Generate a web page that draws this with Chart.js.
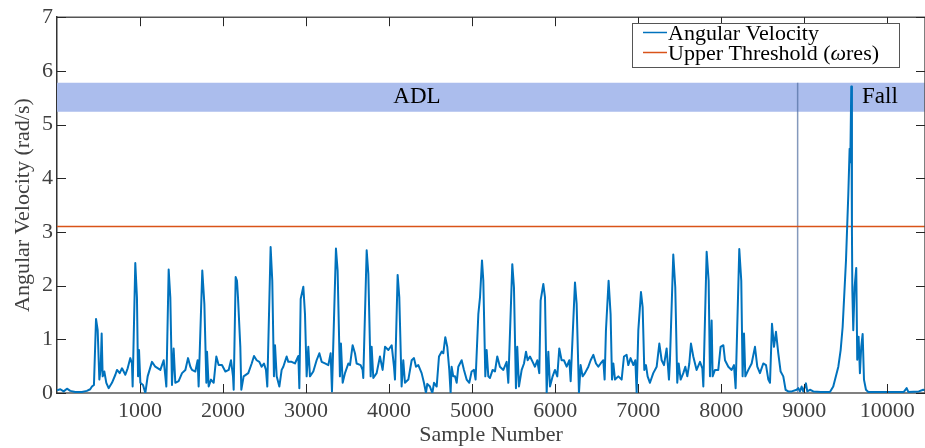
<!DOCTYPE html>
<html>
<head>
<meta charset="utf-8">
<script src="https://cdn.jsdelivr.net/npm/chart.js@4.4.1/dist/chart.umd.min.js"></script>
<style>
  html, body { margin: 0; padding: 0; background: #fff; }
  #chart { display: block; }
</style>
</head>
<body>
<canvas id="chart" width="925" height="448"></canvas>
<script>
// DATA

const sampleNumber = [
    0, 40, 80, 120, 160, 220, 300, 360, 400, 421, 445, 470, 490, 510, 525, 538, 550, 570, 594, 622,
    662, 703, 723, 755, 783, 823, 851, 883, 903, 911, 943, 963, 976, 988, 1004, 1036, 1064, 1092, 1144, 1184,
    1245, 1285, 1305, 1317, 1345, 1365, 1385, 1405, 1425, 1465, 1506, 1546, 1578, 1606, 1626, 1666, 1694, 1706, 1750, 1775,
    1799, 1807, 1827, 1855, 1887, 1919, 1947, 1987, 2028, 2068, 2096, 2120, 2128, 2152, 2168, 2180, 2208, 2220, 2248, 2304,
    2345, 2373, 2405, 2437, 2465, 2493, 2517, 2533, 2573, 2593, 2613, 2626, 2646, 2678, 2706, 2726, 2766, 2786, 2826, 2866,
    2907, 2919, 2935, 2967, 2987, 3007, 3027, 3047, 3087, 3127, 3160, 3188, 3228, 3268, 3296, 3312, 3360, 3380, 3408, 3420,
    3441, 3469, 3509, 3529, 3561, 3589, 3609, 3657, 3681, 3689, 3730, 3750, 3778, 3790, 3810, 3850, 3890, 3922, 3951, 3991,
    4031, 4059, 4071, 4103, 4123, 4151, 4171, 4191, 4232, 4272, 4300, 4324, 4352, 4392, 4420, 4444, 4460, 4492, 4521, 4541,
    4573, 4601, 4633, 4653, 4677, 4701, 4725, 4741, 4753, 4773, 4794, 4814, 4834, 4874, 4902, 4934, 4966, 4994, 5022, 5042,
    5075, 5095, 5119, 5135, 5159, 5175, 5195, 5215, 5247, 5275, 5303, 5335, 5376, 5416, 5436, 5484, 5504, 5528, 5544, 5564,
    5597, 5625, 5649, 5669, 5697, 5729, 5757, 5785, 5809, 5825, 5858, 5878, 5898, 5918, 5938, 5970, 5998, 6026, 6050, 6078,
    6106, 6139, 6171, 6187, 6239, 6259, 6287, 6307, 6331, 6359, 6400, 6428, 6460, 6492, 6520, 6548, 6580, 6596, 6612, 6644,
    6668, 6685, 6701, 6721, 6761, 6801, 6829, 6861, 6881, 6909, 6942, 6966, 6982, 7002, 7034, 7054, 7074, 7094, 7114, 7142,
    7182, 7223, 7255, 7283, 7311, 7343, 7371, 7383, 7423, 7447, 7471, 7488, 7512, 7544, 7568, 7592, 7616, 7636, 7664, 7704,
    7745, 7773, 7785, 7825, 7849, 7865, 7885, 7897, 7925, 7965, 7993, 8026, 8046, 8086, 8126, 8154, 8174, 8218, 8242, 8258,
    8275, 8291, 8327, 8367, 8407, 8435, 8467, 8507, 8540, 8568, 8588, 8612, 8636, 8660, 8688, 8716, 8748, 8776, 8808, 8850,
    8909, 8929, 8949, 8969, 8989, 9021, 9037, 9069, 9110, 9200, 9310, 9350, 9411, 9439, 9463, 9503, 9531, 9547, 9555, 9567,
    9575, 9580, 9591, 9607, 9627, 9639, 9655, 9671, 9687, 9704, 9720, 9744, 9772, 9900, 10000, 10200, 10234, 10254, 10380, 10434,
    10455
];

const angularVelocity = [
    0.05, 0.07, 0.03, 0.08, 0.04, 0.02, 0.02, 0.04, 0.07, 0.12, 0.15, 1.38, 1.17, 0.25, 0.43, 1.11, 0.31, 0.40, 0.19, 0.09,
    0.19, 0.34, 0.43, 0.37, 0.46, 0.34, 0.46, 0.65, 0.55, 0.12, 2.42, 1.78, 0.31, 0.80, 0.19, 0.15, 0.00, 0.31, 0.58, 0.49,
    0.43, 0.61, 0.31, 0.12, 2.30, 1.78, 0.15, 0.83, 0.19, 0.22, 0.37, 0.43, 0.65, 0.49, 0.43, 0.40, 0.61, 0.12, 2.28, 1.66,
    0.19, 0.77, 0.12, 0.25, 0.19, 0.68, 0.52, 0.52, 0.40, 0.43, 0.61, 0.31, 0.06, 2.16, 2.09, 1.78, 0.86, 0.06, 0.31, 0.37,
    0.55, 0.69, 0.61, 0.58, 0.49, 0.55, 0.43, 0.12, 2.72, 2.09, 0.31, 0.89, 0.31, 0.12, 0.43, 0.49, 0.68, 0.58, 0.58, 0.55,
    0.69, 0.09, 1.75, 1.98, 1.47, 0.31, 0.86, 0.31, 0.40, 0.61, 0.74, 0.58, 0.55, 0.52, 0.74, 0.03, 2.69, 2.28, 0.31, 0.92,
    0.19, 0.37, 0.55, 0.52, 0.89, 0.74, 0.55, 0.52, 0.43, 0.28, 2.66, 2.22, 0.31, 0.86, 0.28, 0.37, 0.68, 0.43, 0.86, 0.80,
    0.89, 0.49, 0.25, 2.20, 1.78, 0.12, 0.61, 0.19, 0.25, 0.61, 0.65, 0.49, 0.52, 0.37, 0.19, 0.00, 0.17, 0.12, 0.00, 0.19,
    0.12, 0.68, 0.77, 0.74, 1.04, 0.86, 0.43, 0.00, 0.49, 0.31, 0.31, 0.19, 0.49, 0.61, 0.43, 0.25, 0.19, 0.40, 0.43, 0.25,
    1.47, 1.78, 2.47, 2.09, 0.31, 0.80, 0.31, 0.28, 0.43, 0.40, 0.68, 0.49, 0.43, 0.58, 0.19, 2.40, 1.97, 0.09, 0.86, 0.12,
    0.43, 0.55, 0.77, 0.61, 0.68, 0.58, 0.49, 0.61, 0.37, 1.72, 2.03, 1.78, 0.00, 0.77, 0.12, 0.31, 0.43, 0.31, 0.83, 0.61,
    0.61, 0.49, 0.61, 0.22, 2.06, 1.66, 0.00, 0.52, 0.31, 0.37, 0.49, 0.61, 0.71, 0.55, 0.49, 0.55, 0.61, 0.25, 1.17, 2.09,
    1.47, 0.25, 0.55, 0.25, 0.31, 0.25, 0.68, 0.71, 0.52, 0.65, 0.52, 0.61, 0.00, 1.17, 1.88, 1.60, 0.43, 0.52, 0.31, 0.19,
    0.37, 0.49, 0.92, 0.61, 0.52, 0.83, 0.25, 0.61, 2.58, 1.97, 0.19, 0.55, 0.25, 0.37, 0.49, 0.31, 0.55, 0.92, 0.68, 0.43,
    0.58, 0.46, 0.12, 2.63, 2.09, 0.31, 1.35, 0.31, 0.43, 0.43, 0.86, 0.89, 0.61, 0.49, 0.43, 0.52, 0.09, 2.68, 2.09, 0.31,
    1.11, 0.31, 0.43, 0.55, 0.86, 0.49, 0.37, 0.55, 0.52, 0.25, 0.19, 1.29, 0.86, 1.14, 0.74, 0.40, 0.31, 0.06, 0.03, 0.03,
    0.06, 0.09, 0.03, 0.12, 0.03, 0.18, 0.03, 0.06, 0.03, 0.02, 0.02, 0.12, 0.49, 0.80, 1.23, 2.46, 3.69, 4.55, 4.30, 5.71,
    3.00, 1.90, 1.17, 1.97, 2.33, 0.62, 1.05, 0.37, 0.86, 1.10, 0.25, 0.06, 0.02, 0.02, 0.02, 0.02, 0.09, 0.02, 0.03, 0.06,
    0.05
];

const upperThreshold = 3.1;
const regionBand = [5.24, 5.78];
const fallStart = 8921;
const xTickValues = [1000, 2000, 3000, 4000, 5000, 6000, 7000, 8000, 9000, 10000];
const yTickValues = [0, 1, 2, 3, 4, 5, 6, 7];
const xRange = [0, 10455];
const regionLabels = [
    { text: "ADL", x: 4336, y: 5.51 },
    { text: "Fall", x: 9912, y: 5.51 }
];


// STYLE

const serif = '"Liberation Serif", "Times New Roman", serif';
const blue = "#0072BD";
const orange = "#D95319";
const textGray = "#404040";


// TICKS, BOX, REGION LABELS, LEGEND

const figureDecor = {
    id: "figureDecor",
    afterDatasetsDraw(chart) {
        const ctx = chart.ctx;
        const a = chart.chartArea;
        const xs = chart.scales.x;
        const ys = chart.scales.y;

        function seg(x1, y1, x2, y2) {
            ctx.beginPath();
            ctx.moveTo(x1, y1);
            ctx.lineTo(x2, y2);
            ctx.stroke();
        }

        ctx.save();

        // region names
        ctx.fillStyle = "#000";
        ctx.font = "23px " + serif;
        ctx.textAlign = "center";
        ctx.textBaseline = "middle";
        regionLabels.forEach(r => {
            ctx.fillText(r.text, xs.getPixelForValue(r.x), ys.getPixelForValue(r.y));
        });

        // box
        ctx.strokeStyle = "#555";
        ctx.lineWidth = 1.5;
        seg(a.left, a.top, a.right, a.top);
        seg(a.right, a.top, a.right, a.bottom);

        // inward ticks
        ctx.strokeStyle = "#262626";
        ctx.lineWidth = 1;
        xTickValues.forEach(v => {
            const px = Math.round(xs.getPixelForValue(v)) + 0.5;
            seg(px, a.bottom, px, a.bottom - 9);
            seg(px, a.top, px, a.top + 9);
        });
        yTickValues.forEach(v => {
            const py = Math.round(ys.getPixelForValue(v)) + 0.5;
            seg(a.left, py, a.left + 9, py);
            seg(a.right, py, a.right - 9, py);
        });

        // legend
        const lx = 632.5, ly = 23.5, lw = 267, lh = 44;
        ctx.fillStyle = "#fff";
        ctx.fillRect(lx, ly, lw, lh);
        ctx.strokeStyle = "#555";
        ctx.lineWidth = 1;
        ctx.strokeRect(lx, ly, lw, lh);

        ctx.lineWidth = 1.5;
        ctx.strokeStyle = blue;
        seg(643, 32.5, 667, 32.5);
        ctx.strokeStyle = orange;
        seg(643, 52.5, 667, 52.5);

        ctx.fillStyle = "#000";
        ctx.textAlign = "left";
        ctx.textBaseline = "alphabetic";
        ctx.font = "22px " + serif;
        ctx.fillText("Angular Velocity", 668, 39.5);
        let tx = 668;
        const part1 = "Upper Threshold (";
        ctx.fillText(part1, tx, 59.5);
        tx += ctx.measureText(part1).width;
        ctx.font = "italic 22px " + serif;
        ctx.fillText("\u03C9", tx, 59.5);
        tx += ctx.measureText("\u03C9").width;
        ctx.font = "22px " + serif;
        ctx.fillText("res)", tx, 59.5);

        ctx.restore();
    }
};


// CHART

function renderChart() {
    const canvas = document.getElementById("chart");

    const velocityPoints = sampleNumber.map((x, i) => ({ x: x, y: angularVelocity[i] }));

    new Chart(canvas, {
        type: "line",
        data: {
            datasets: [
                {
                    label: "Angular Velocity",
                    data: velocityPoints,
                    borderColor: blue,
                    borderWidth: 2,
                    borderJoinStyle: "round",
                    pointRadius: 0,
                    tension: 0,
                    fill: false,
                    order: 1
                },
                {
                    label: "Upper Threshold",
                    data: [{ x: xRange[0], y: upperThreshold }, { x: xRange[1], y: upperThreshold }],
                    borderColor: orange,
                    borderWidth: 1.5,
                    pointRadius: 0,
                    fill: false,
                    order: 2
                },
                {
                    label: "Fall start",
                    data: [{ x: fallStart, y: 0 }, { x: fallStart, y: regionBand[1] }],
                    borderColor: "rgba(80,110,160,0.7)",
                    borderWidth: 1.5,
                    pointRadius: 0,
                    fill: false,
                    order: 3
                },
                {
                    label: "Region band",
                    data: [{ x: xRange[0], y: regionBand[1] }, { x: xRange[1], y: regionBand[1] }],
                    borderWidth: 0,
                    borderColor: "rgba(0,0,0,0)",
                    backgroundColor: "#ABBDED",
                    pointRadius: 0,
                    fill: { value: regionBand[0] },
                    order: 4
                }
            ]
        },
        options: {
            responsive: false,
            animation: false,
            layout: {
                padding: { top: 14, right: 0, left: 0, bottom: 0 }
            },
            plugins: {
                legend: { display: false },
                tooltip: { enabled: false }
            },
            scales: {
                x: {
                    type: "linear",
                    min: xRange[0],
                    max: xRange[1],
                    afterFit: s => { s.height = 55; },
                    afterBuildTicks: s => { s.ticks = xTickValues.map(v => ({ value: v })); },
                    grid: { display: false, drawTicks: false },
                    border: { display: true, color: "#808080", width: 2 },
                    ticks: {
                        autoSkip: false,
                        maxRotation: 0,
                        padding: 5,
                        color: textGray,
                        font: { family: serif, size: 22 },
                        callback: v => String(v)
                    },
                    title: {
                        display: true,
                        text: "Sample Number",
                        color: textGray,
                        font: { family: serif, size: 22 },
                        padding: { top: 0, bottom: 0 }
                    }
                },
                y: {
                    min: 0,
                    max: 7,
                    afterFit: s => { s.width = 57; },
                    afterBuildTicks: s => { s.ticks = yTickValues.map(v => ({ value: v })); },
                    grid: { display: false, drawTicks: false },
                    border: { display: true, color: "#333", width: 1.5 },
                    ticks: {
                        padding: 4,
                        color: textGray,
                        font: { family: serif, size: 22 }
                    },
                    title: {
                        display: true,
                        text: "Angular Velocity (rad/s)",
                        color: textGray,
                        font: { family: serif, size: 22 },
                        padding: { top: 10, bottom: 0 }
                    }
                }
            }
        },
        plugins: [figureDecor]
    });
}

renderChart();
</script>
</body>
</html>
